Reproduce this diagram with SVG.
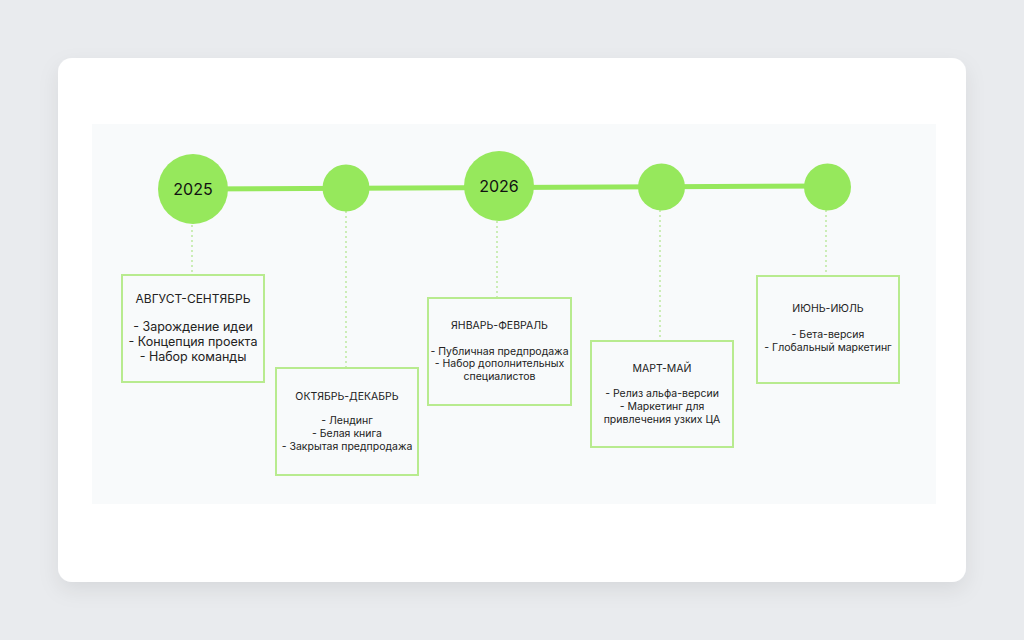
<svg xmlns="http://www.w3.org/2000/svg" width="1024" height="640" viewBox="0 0 1024 640">
<defs>
<filter id="sh" x="-10%" y="-10%" width="120%" height="130%">
<feDropShadow dx="0" dy="8" stdDeviation="10" flood-color="#000" flood-opacity="0.08"/>
</filter>
<style>
.dot{fill:#96e85c}
.box{fill:none;stroke:#b8eb8f;stroke-width:2}
.dash{stroke:#b9e79a;stroke-width:1.4;stroke-dasharray:2 3;fill:none}
text{font-family:Inter,"Noto Sans","DejaVu Sans",sans-serif;fill:#222;text-anchor:middle}
.yr{font-size:16px;font-weight:400;fill:#111}
.t1{font-size:12.5px}
.h1{font-size:12px}
.t2{font-size:10.5px}
</style>
</defs>
<rect width="1024" height="640" fill="#e9ebee"/>
<rect x="58" y="58" width="908" height="524" rx="14" fill="#ffffff" filter="url(#sh)"/>
<rect x="92" y="124" width="844" height="380" fill="#f8fafb"/>
<g id="connectors">
<line x1="193" y1="189" x2="828" y2="186" stroke="#96e85c" stroke-width="5"/>
<line class="dash" x1="192" y1="225" x2="192" y2="275"/>
<line class="dash" x1="346" y1="211" x2="346" y2="368"/>
<line class="dash" x1="497" y1="221" x2="497" y2="298"/>
<line class="dash" x1="660" y1="210" x2="660" y2="341"/>
<line class="dash" x1="826" y1="210" x2="826" y2="276"/>
</g>
<g id="node-2025"><circle class="dot" cx="193" cy="189" r="35"/><text class="yr" x="193" y="195">2025</text></g>
<g id="node-c2"><circle class="dot" cx="346" cy="188" r="23.5"/></g>
<g id="node-2026"><circle class="dot" cx="499" cy="186" r="35"/><text class="yr" x="499" y="192">2026</text></g>
<g id="node-c4"><circle class="dot" cx="661.5" cy="187" r="23.5"/></g>
<g id="node-c5"><circle class="dot" cx="827.5" cy="187" r="23.5"/></g>
<g id="box-aug">
<rect class="box" x="122" y="275" width="142" height="107"/>
<text class="h1" x="193" y="303">АВГУСТ-СЕНТЯБРЬ</text>
<text class="t1" x="193" y="331">- Зарождение идеи</text>
<text class="t1" x="193" y="346">- Концепция проекта</text>
<text class="t1" x="193" y="361">- Набор команды</text>
</g>
<g id="box-oct">
<rect class="box" x="276" y="368" width="142" height="107"/>
<text class="t2" x="347" y="400">ОКТЯБРЬ-ДЕКАБРЬ</text>
<text class="t2" x="347" y="424">- Лендинг</text>
<text class="t2" x="347" y="437">- Белая книга</text>
<text class="t2" x="347" y="450">- Закрытая предпродажа</text>
</g>
<g id="box-jan">
<rect class="box" x="428" y="298" width="143" height="107"/>
<text class="t2" x="499.5" y="329">ЯНВАРЬ-ФЕВРАЛЬ</text>
<text class="t2" x="499.5" y="355">- Публичная предпродажа</text>
<text class="t2" x="499.5" y="367">- Набор дополнительных</text>
<text class="t2" x="499.5" y="380">специалистов</text>
</g>
<g id="box-mar">
<rect class="box" x="591" y="341" width="142" height="106"/>
<text class="t2" x="662" y="372">МАРТ-МАЙ</text>
<text class="t2" x="662" y="397">- Релиз альфа-версии</text>
<text class="t2" x="662" y="410">- Маркетинг для</text>
<text class="t2" x="662" y="423">привлечения узких ЦА</text>
</g>
<g id="box-jun">
<rect class="box" x="757" y="276" width="142" height="107"/>
<text class="t2" x="828" y="312">ИЮНЬ-ИЮЛЬ</text>
<text class="t2" x="828" y="338">- Бета-версия</text>
<text class="t2" x="828" y="351">- Глобальный маркетинг</text>
</g>
</svg>
